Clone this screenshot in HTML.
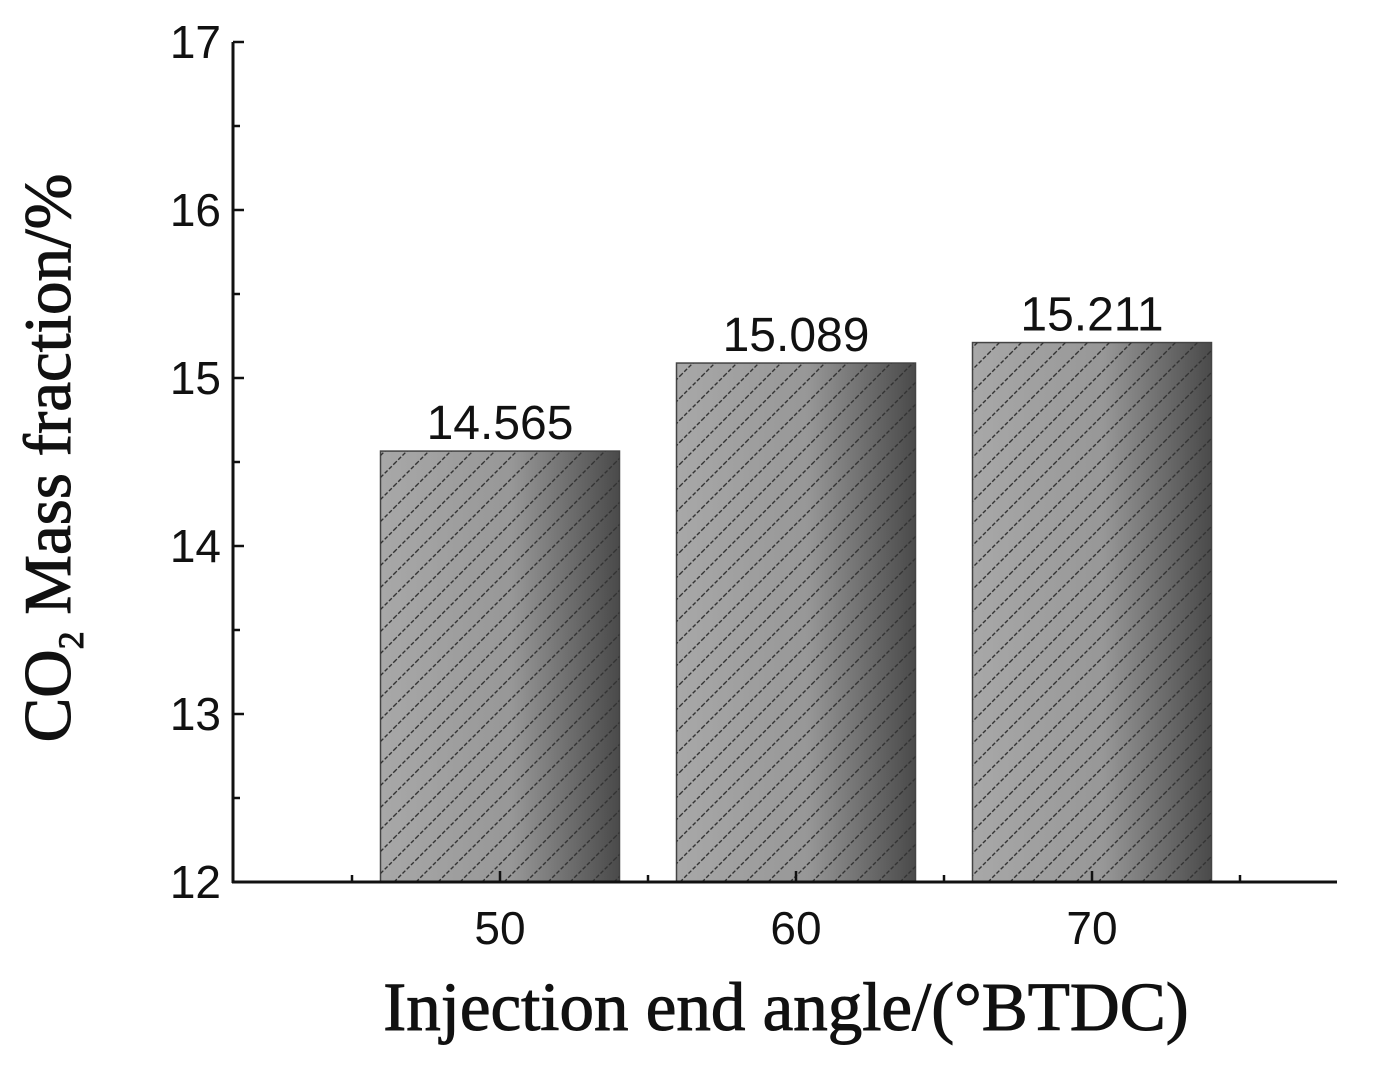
<!DOCTYPE html>
<html><head><meta charset="utf-8"><style>
html,body{margin:0;padding:0;background:#fff;}
svg{display:block;}
</style></head><body>
<svg width="1383" height="1067" viewBox="0 0 1383 1067" xmlns="http://www.w3.org/2000/svg">
<defs>
<linearGradient id="g" x1="0" y1="0" x2="1" y2="0">
<stop offset="0" stop-color="#a8a8a8"/><stop offset="0.55" stop-color="#979797"/><stop offset="1" stop-color="#4a4a4a"/>
</linearGradient>
<pattern id="h" patternUnits="userSpaceOnUse" width="22" height="22">
<path d="M-2,24 L24,-2 M-13,13 L13,-13 M9,35 L35,9" stroke="#333" stroke-width="1.4" stroke-dasharray="4,2"/>
</pattern>
</defs>
<g id="plot"></g>
<text transform="translate(70,458) rotate(-90)" text-anchor="middle" font-family="Liberation Serif, serif" font-size="67" fill="#111" stroke="#111" stroke-width="1">CO<tspan font-size="36" dy="13">2</tspan><tspan dy="-13"> Mass fraction/%</tspan></text>
<text x="786" y="1030" text-anchor="middle" font-family="Liberation Serif, serif" font-size="69" fill="#111" stroke="#111" stroke-width="1">Injection end angle/(°BTDC)</text>
</svg>
<script>
const categories = ["50","60","70"];
const values = [14.565, 15.089, 15.211];
const valueLabels = ["14.565","15.089","15.211"];
const yTicks = [12,13,14,15,16,17];
const NS="http://www.w3.org/2000/svg";
const g=document.getElementById('plot');
const x0=233,x1=1337,yb=882,yt=42,ymin=12,ymax=17;
const y=v=>yb-(v-ymin)/(ymax-ymin)*(yb-yt);
const step=296, first=500;
const xc=i=>first+i*step;
function el(t,a){const e=document.createElementNS(NS,t);for(const k in a)e.setAttribute(k,a[k]);g.appendChild(e);return e;}
values.forEach((v,i)=>{
 const bx=xc(i)-119.5,bw=239,by=y(v),bh=yb-by;
 const r=el('rect',{x:bx,y:by,width:bw,height:bh,fill:'url(#g)',stroke:'#444','stroke-width':1.5});
 
 
 const r2=el('rect',{x:bx,y:by,width:bw,height:bh,fill:'url(#h)'});
 
 
 const t=el('text',{x:xc(i),y:by-12,'text-anchor':'middle','font-family':'Liberation Sans, sans-serif','font-size':48,fill:'#111'});
 t.textContent=valueLabels[i];
 
 
 const xl=el('text',{x:xc(i),y:944,'text-anchor':'middle','font-family':'Liberation Sans, sans-serif','font-size':46,fill:'#111'});
 xl.textContent=categories[i];
 
 
 const tk=el('line',{x1:xc(i),x2:xc(i),y1:yb,y2:yb-11,stroke:'#111','stroke-width':2.5});
 
 
});
for(let i=-1;i<categories.length;i++){
 const mx=xc(i)+step/2;
 const m=el('line',{x1:mx,x2:mx,y1:yb,y2:yb-7,stroke:'#111','stroke-width':2.5});
 
 
}
yTicks.forEach((v,i)=>{
 const tk=el('line',{x1:x0,x2:x0+11,y1:y(v),y2:y(v),stroke:'#111','stroke-width':2.5});
 
 
 const t=el('text',{x:221,y:y(v)+16,'text-anchor':'end','font-family':'Liberation Sans, sans-serif','font-size':46,fill:'#111'});
 t.textContent=v;
 
 
 if(i<yTicks.length-1){
  const m=el('line',{x1:x0,x2:x0+7,y1:y(v+0.5),y2:y(v+0.5),stroke:'#111','stroke-width':2.5});
  
  
 }
});
const ya=el('line',{x1:x0,x2:x0,y1:yt,y2:yb+1,stroke:'#111','stroke-width':3});


const xa=el('line',{x1:x0-1,x2:x1,y1:yb,y2:yb,stroke:'#111','stroke-width':3});


</script>
</body></html>
